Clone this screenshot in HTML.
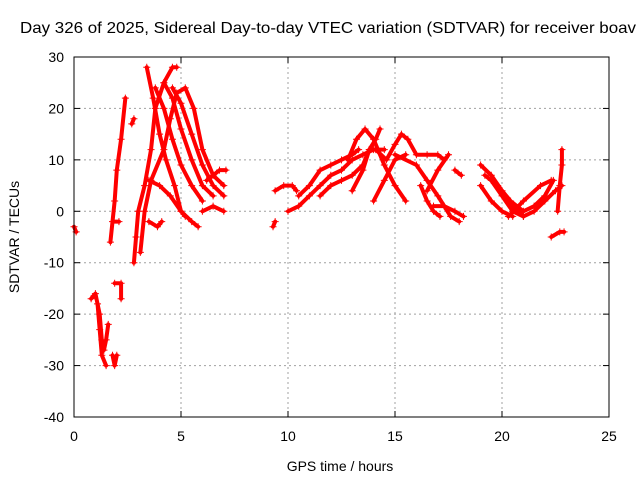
<!DOCTYPE html>
<html><head><meta charset="utf-8"><style>
body{margin:0;background:#fff;overflow:hidden;}
svg{display:block;font-family:"Liberation Sans",sans-serif;}
</style></head><body>
<svg id="chart" width="640" height="480">
<rect x="0" y="0" width="640" height="480" fill="#fff"/>
<text x="20" y="33" font-size="16" textLength="616" lengthAdjust="spacingAndGlyphs" text-anchor="start">Day 326 of 2025, Sidereal Day-to-day VTEC variation (SDTVAR) for receiver boav</text>
<g id="grid"></g><g id="ticks"></g><g id="series"></g>
<rect x="74" y="57" width="535" height="360" fill="none" stroke="#000"/>
<text x="340" y="471" font-size="14" text-anchor="middle">GPS time / hours</text>
<text transform="translate(19,237) rotate(-90)" font-size="14" text-anchor="middle">SDTVAR / TECUs</text>
</svg>
<script>
const xTicks=[0,5,10,15,20,25];
const yTicks=[30,20,10,0,-10,-20,-30,-40];
const tracks=[
[[0,-3],[0.1,-4]],
[[0.8,-17],[1.0,-16],[1.2,-20],[1.3,-25],[1.4,-27],[1.5,-25],[1.6,-22]],
[[1.1,-18],[1.2,-23],[1.3,-28],[1.5,-30]],
[[1.8,-28],[1.9,-30],[2.0,-28]],
[[1.7,-6],[1.9,2],[2.0,8],[2.2,14],[2.4,22]],
[[1.9,-14],[2.2,-14],[2.2,-17]],
[[1.8,-2],[2.1,-2]],
[[2.7,17],[2.8,18]],
[[2.8,-10],[2.9,-5],[3.0,0],[3.3,5],[3.6,12],[3.8,20],[4.2,25],[4.6,28],[4.8,28]],
[[3.4,28],[3.7,22],[4.0,15],[4.3,10],[4.7,5],[5.0,0],[5.2,-1]],
[[3.8,24],[4.2,20],[4.6,14],[5.0,9],[5.5,5],[6.0,2]],
[[4.2,25],[4.6,22],[5.0,16],[5.5,10],[6.0,5],[6.5,3]],
[[4.6,24],[5.0,21],[5.5,15],[6.0,9],[6.5,5],[7.0,3]],
[[3.1,-8],[3.3,0],[3.6,6],[4.2,12],[4.5,18],[4.8,23],[5.2,24],[5.6,20],[6.0,12],[6.5,7],[7.0,5]],
[[3.5,6],[4.0,5],[4.5,3],[5.0,0],[5.5,-2],[5.8,-3]],
[[3.5,-2],[3.9,-3],[4.1,-2]],
[[6.0,0],[6.5,1],[7.0,0]],
[[6.2,6],[6.8,8],[7.1,8]],
[[9.3,-3],[9.4,-2]],
[[9.4,4],[9.8,5],[10.2,5],[10.4,4]],
[[10.0,0],[10.5,1],[11.0,3],[11.5,5],[12.0,7],[12.5,8],[13.0,10],[13.5,11],[14.0,12],[14.5,12]],
[[10.5,3],[11.0,5],[11.5,8],[12.0,9],[12.5,10],[13.0,11],[13.3,12]],
[[11.5,3],[12.0,5],[12.5,6],[13.0,7],[13.5,9],[13.8,12],[14.1,14],[14.3,16]],
[[12.8,10],[13.2,14],[13.6,16],[14.0,14],[14.5,9],[15.0,5],[15.5,2]],
[[13.0,4],[13.5,8],[13.8,12],[14.1,12],[14.6,10],[15.0,13],[15.3,15],[15.6,14],[16.0,11],[16.5,11],[17.0,11],[17.3,10]],
[[14.0,2],[14.5,6],[15.0,10],[15.5,11]],
[[15.0,11],[16.0,9],[16.5,6],[17.0,3],[17.6,-1],[18.0,-2]],
[[16.5,4],[17.0,8],[17.5,11]],
[[16.2,5],[16.5,2],[16.8,0],[17.1,-1]],
[[17.8,8],[18.1,7]],
[[16.8,1],[17.3,1],[17.8,0],[18.2,-1]],
[[19.0,9],[19.5,7],[20.0,4],[20.5,1],[21.0,-1]],
[[19.0,5],[19.5,2],[20.0,0],[20.5,-1]],
[[19.2,7],[19.8,5],[20.4,2],[21.0,0],[21.5,1],[22.0,3],[22.4,6]],
[[19.5,6],[20.0,3],[20.5,0],[21.0,-1],[21.5,0],[22.0,2],[22.5,4],[22.8,5]],
[[20.3,-1],[21.0,2],[21.8,5],[22.3,6]],
[[22.6,0],[22.7,5],[22.8,9],[22.8,12]],
[[22.3,-5],[22.7,-4],[22.9,-4]]
];
const X=v=>74+(v-0)/25*535;
const Y=v=>57+(30-v)/70*360;
const NS="http://www.w3.org/2000/svg";
const grid=document.getElementById('grid'),ticks=document.getElementById('ticks'),ser=document.getElementById('series');
function mk(tag,attrs,parent){const e=document.createElementNS(NS,tag);for(const k in attrs)e.setAttribute(k,attrs[k]);parent.appendChild(e);return e;}
xTicks.forEach(t=>{
 const x=X(t);
 if(t>0&&t<25){const g=mk('line',{x1:x,x2:x,y1:57,y2:417,stroke:'#a0a0a0','stroke-dasharray':'2,3'},grid);
 
 }
 mk('line',{x1:x,x2:x,y1:417,y2:411,stroke:'#000'},ticks);
 mk('line',{x1:x,x2:x,y1:57,y2:63,stroke:'#000'},ticks);
 const tx=mk('text',{x:x,y:441,'font-size':14,'text-anchor':'middle'},ticks);tx.textContent=t;
 
 
});
yTicks.forEach(t=>{
 const y=Y(t);
 if(t<30&&t>-40){const g=mk('line',{x1:74,x2:609,y1:y,y2:y,stroke:'#a0a0a0','stroke-dasharray':'2,3'},grid);
 
 }
 mk('line',{x1:74,x2:80,y1:y,y2:y,stroke:'#000'},ticks);
 mk('line',{x1:609,x2:603,y1:y,y2:y,stroke:'#000'},ticks);
 const tx=mk('text',{x:64,y:y+5,'font-size':14,'text-anchor':'end'},ticks);tx.textContent=t;
 
 
});
tracks.forEach((tr,i)=>{
 const pl=mk('polyline',{points:tr.map(p=>X(p[0])+','+Y(p[1])).join(' '),fill:'none',stroke:'#ff0000','stroke-width':4,'stroke-linejoin':'round','stroke-linecap':'round'},ser);
 
 
 tr.forEach(p=>{
  const x=X(p[0]),y=Y(p[1]);
  const m=mk('path',{d:`M${x-3.5},${y}H${x+3.5}M${x},${y-3.5}V${y+3.5}`,stroke:'#ff0000','stroke-width':1},ser);
  
  
 });
});
</script>
</body></html>
